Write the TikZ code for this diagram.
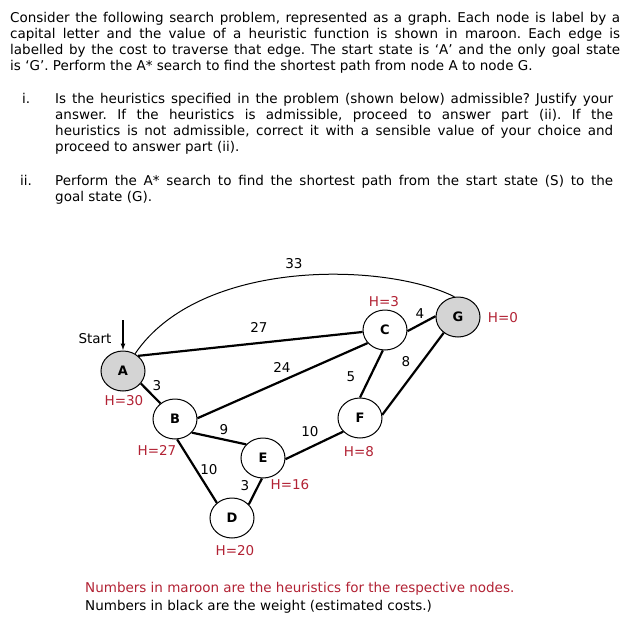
\documentclass[tikz,border=0pt]{standalone}
\usepackage{fontspec}
\setmainfont{DejaVu Sans}
\usetikzlibrary{shapes.geometric,arrows.meta}
\definecolor{maroon}{RGB}{178,34,52}

\begin{document}
\frenchspacing
\begin{tikzpicture}[x=1pt,y=-1pt]
\tikzset{wnode/.style = {ellipse, draw=black, fill=white, line width=1pt, minimum width=44pt, minimum height=40pt, inner sep=0pt, font=\bfseries\fontsize{13}{15}\selectfont}}
\tikzset{gnode/.style = {wnode, fill=black!17}}
\tikzset{hval/.style = {text=maroon, inner sep=0pt, font=\fontsize{13.5}{16}\selectfont}}
\tikzset{wval/.style = {inner sep=0pt, font=\fontsize{13.5}{16}\selectfont}}
\tikzset{para/.style = {anchor=north west, inner sep=0pt, align=justify, font=\fontsize{13.5}{16}\selectfont}}
\tikzset{edge/.style = {line width=2.2pt}}
\useasboundingbox (0,0) rectangle (633,632);

% question text
\node[para, text width=610pt] (intro) at (10,12) {Consider the following search problem, represented as a graph. Each node is label by a\linebreak
capital letter and the value of a heuristic function is shown in maroon. Each edge is\linebreak
labelled by the cost to traverse that edge. The start state is ‘A’ and the only goal state\linebreak
is ‘G’. Perform the A* search to find the shortest path from node A to node G.};
\node[para] (itemi) at (22,93) {i.};
\node[para, text width=558pt] (parti) at (55,93) {Is the heuristics specified in the problem (shown below) admissible? Justify your\linebreak
answer. If the heuristics is admissible, proceed to answer part (ii). If the\linebreak
heuristics is not admissible, correct it with a sensible value of your choice and\linebreak
proceed to answer part (ii).};
\node[para] (itemii) at (20,175) {ii.};
\node[para, text width=558pt] (partii) at (55,175) {Perform the A* search to find the shortest path from the start state (S) to the\linebreak
goal state (G).};

% graph
    \node[gnode] (nA) at (123,371) {A};
    \node[wnode] (nB) at (175,419) {B};
    \node[wnode] (nC) at (385,330) {C};
    \node[wnode] (nD) at (232,518) {D};
    \node[wnode] (nE) at (263,458) {E};
    \node[wnode] (nF) at (360,418) {F};
    \node[gnode] (nG) at (458,317) {G};

\draw[line width=1pt] (nA.55) .. controls (200,258) and (385,262) .. (nG.100);
\draw[edge] (nA.45)--(nC.185);
\draw[edge] (nA.-35)--(nB.133);
\draw[edge] (nB.2)--(nC.217);
\draw[edge] (nB.-39)--(nE.141);
\draw[edge] (nB.-84)--(nD.135);
\draw[edge] (nE.-93)--(nD.39);
\draw[edge] (nE.-3)--(nF.219);
\draw[edge] (nF.90)--(nC.-96);
\draw[edge] (nF.8)--(nG.228);
\draw[edge] (nC.-3)--(nG.178);

    \node[wval] (wAG) at (294,264) {33};
    \node[wval] (wAC) at (259,327) {27};
    \node[wval] (wBC) at (282,367) {24};
    \node[wval] (wAB) at (157,386) {3};
    \node[wval] (wBE) at (224,430) {9};
    \node[wval] (wEF) at (310,432) {10};
    \node[wval] (wFC) at (351,377) {5};
    \node[wval] (wFG) at (406,362) {8};
    \node[wval] (wCG) at (420,314) {4};
    \node[wval] (wBD) at (209,470) {10};
    \node[wval] (wED) at (245,486) {3};

    \node[hval] (hA) at (124,401) {H=30};
    \node[hval] (hB) at (157,450) {H=27};
    \node[hval] (hC) at (384,302) {H=3};
    \node[hval] (hD) at (235,551) {H=20};
    \node[hval] (hE) at (290,485) {H=16};
    \node[hval] (hF) at (359,452) {H=8};
    \node[hval] (hG) at (503,318) {H=0};

% start marker
\node[wval] (start) at (95,339) {Start};
\coordinate (startTop) at (123,320);
\draw[-{Latex[length=7pt,width=5pt]}, line width=1.3pt] (startTop) -- (nA.north);

% legend
\node[para, anchor=base west, text=maroon] (legendH) at (85,592) {Numbers in maroon are the heuristics for the respective nodes.};
\node[para, anchor=base west] (legendW) at (85,610) {Numbers in black are the weight (estimated costs.)};
\end{tikzpicture}
\end{document}
